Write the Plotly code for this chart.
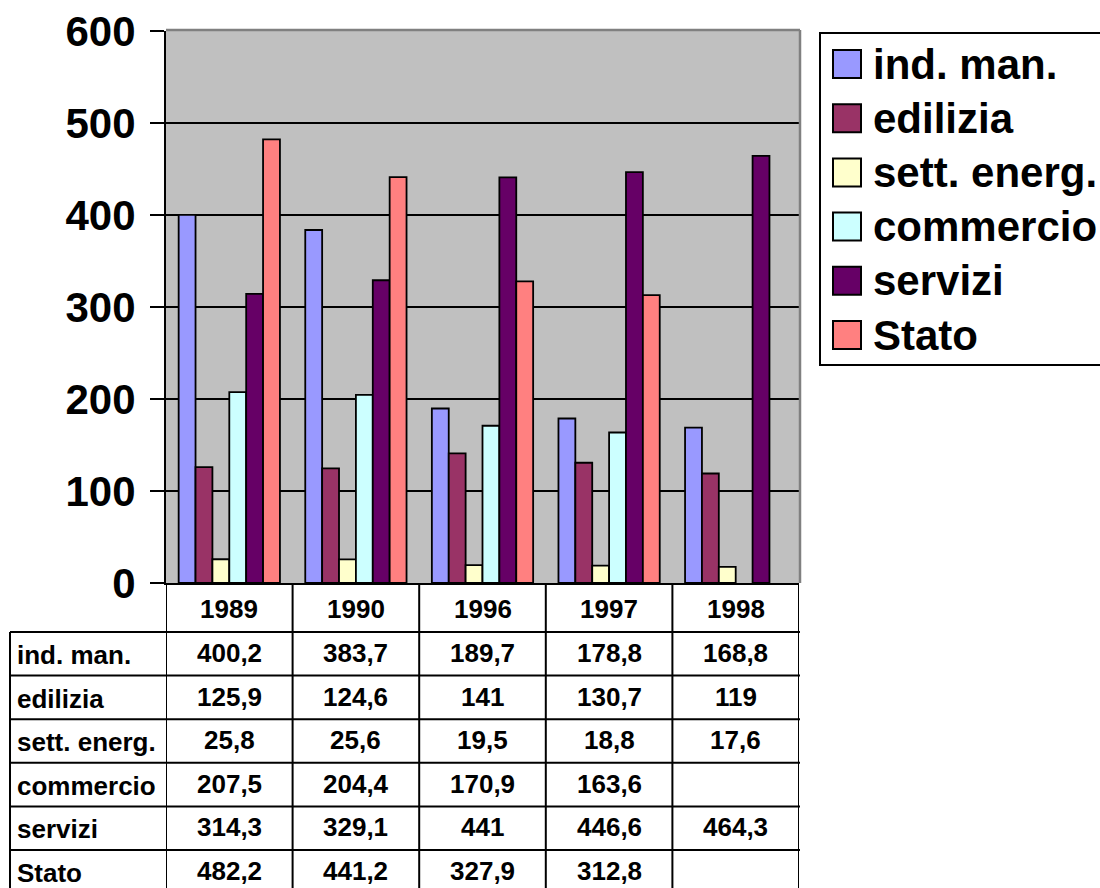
import plotly.graph_objects as go

years = ["1989", "1990", "1996", "1997", "1998"]
series_names = ["ind. man.", "edilizia", "sett. energ.", "commercio", "servizi", "Stato"]
ind_man = [400.2, 383.7, 189.7, 178.8, 168.8]
edilizia = [125.9, 124.6, 141, 130.7, 119]
sett_energ = [25.8, 25.6, 19.5, 18.8, 17.6]
commercio = [207.5, 204.4, 170.9, 163.6, None]
servizi = [314.3, 329.1, 441, 446.6, 464.3]
stato = [482.2, 441.2, 327.9, 312.8, None]
y_ticks = [0, 100, 200, 300, 400, 500, 600]

series_values = [ind_man, edilizia, sett_energ, commercio, servizi, stato]
colors = ["#9999FF", "#993366", "#FFFFCC", "#CCFFFF", "#660066", "#FF8080"]

W, H = 1100, 888
FONT = "Liberation Sans, Arial, sans-serif"

def px(x):
    return x / W

def py(y):
    return 1 - y / H

def fmt(v):
    if v is None:
        return ""
    if float(v).is_integer():
        return str(int(v))
    return ("%g" % v).replace(".", ",")

PLOT_L, PLOT_R, PLOT_T, PLOT_B = 166, 799, 31, 583

fig = go.Figure()
for name, vals, col in zip(series_names, series_values, colors):
    fig.add_trace(go.Bar(
        x=years, y=vals, name=name,
        marker=dict(color=col, line=dict(color="black", width=1.8)),
        showlegend=False,
    ))

shapes = []
annotations = []

# plot area top/right gray border
shapes.append(dict(type="line", xref="paper", yref="paper",
                   x0=px(PLOT_L), x1=px(PLOT_R + 1), y0=py(PLOT_T - 1), y1=py(PLOT_T - 1),
                   line=dict(color="#808080", width=2.5)))
shapes.append(dict(type="line", xref="paper", yref="paper",
                   x0=px(PLOT_R + 1), x1=px(PLOT_R + 1), y0=py(PLOT_T - 1), y1=py(PLOT_B),
                   line=dict(color="#808080", width=2.5)))

# ---- data table below the chart ----
ROW_H = 43.6
HEADER_BOTTOM = 632
TABLE_LEFT = 10
n_rows = len(series_names)
row_tops = [HEADER_BOTTOM + i * ROW_H for i in range(n_rows)]
line_style = dict(color="black", width=2)

# horizontal lines
for i in range(n_rows + 1):
    yy = HEADER_BOTTOM + i * ROW_H
    shapes.append(dict(type="line", xref="paper", yref="paper",
                       x0=px(TABLE_LEFT), x1=px(PLOT_R + 1), y0=py(yy), y1=py(yy),
                       line=line_style))
# vertical lines (category boundaries from the x axis)
for k in range(len(years) + 1):
    shapes.append(dict(type="line", xref="x", yref="paper",
                       x0=k - 0.5, x1=k - 0.5, y0=py(PLOT_B), y1=py(H + 10),
                       line=line_style))
shapes.append(dict(type="line", xref="paper", yref="paper",
                   x0=px(TABLE_LEFT), x1=px(TABLE_LEFT), y0=py(HEADER_BOTTOM), y1=py(H + 10),
                   line=line_style))

# year header
for j, yr in enumerate(years):
    annotations.append(dict(x=j, xref="x", y=py((PLOT_B + HEADER_BOTTOM) / 2 + 1), yref="paper",
                            text="<b>%s</b>" % yr, showarrow=False,
                            font=dict(family=FONT, size=26, color="black"),
                            xanchor="center", yanchor="middle"))
# row labels and values
for i, (name, vals) in enumerate(zip(series_names, series_values)):
    top = row_tops[i]
    annotations.append(dict(x=px(TABLE_LEFT + 5), xref="paper", y=py(top + 23), yref="paper",
                            text="<b>%s</b>" % name, showarrow=False,
                            font=dict(family=FONT, size=26, color="black"),
                            xanchor="left", yanchor="middle"))
    for j, v in enumerate(vals):
        if v is None:
            continue
        annotations.append(dict(x=j, xref="x", y=py(top + 21), yref="paper",
                                text="<b>%s</b>" % fmt(v), showarrow=False,
                                font=dict(family=FONT, size=26, color="black"),
                                xanchor="center", yanchor="middle"))

# ---- legend (drawn manually to match swatch size) ----
LEG_L, LEG_T, LEG_B = 820, 33, 365
shapes.append(dict(type="rect", xref="paper", yref="paper",
                   x0=px(LEG_L), x1=px(W + 20), y0=py(LEG_T), y1=py(LEG_B),
                   line=dict(color="black", width=2), fillcolor="white", layer="below"))
for i, (name, col) in enumerate(zip(series_names, colors)):
    yc = 64 + i * 54.2
    shapes.append(dict(type="rect", xref="paper", yref="paper",
                       x0=px(833), x1=px(861), y0=py(yc - 14), y1=py(yc + 14),
                       line=dict(color="black", width=2), fillcolor=col))
    annotations.append(dict(x=px(871), xref="paper", y=py(yc), yref="paper",
                            text="<b>%s</b>" % name, showarrow=False,
                            font=dict(family=FONT, size=42, color="black"),
                            xanchor="left", yanchor="middle"))

fig.update_layout(
    width=W, height=H,
    margin=dict(l=0, r=0, t=0, b=0, autoexpand=False),
    paper_bgcolor="white",
    plot_bgcolor="#C0C0C0",
    barmode="group",
    bargap=0.2,
    bargroupgap=0,
    shapes=shapes,
    annotations=annotations,
    xaxis=dict(domain=[px(PLOT_L), px(PLOT_R)], range=[-0.5, len(years) - 0.5],
               type="category", showticklabels=False, ticks="",
               showgrid=False, showline=True, linecolor="black", linewidth=2,
               zeroline=False, fixedrange=True),
    yaxis=dict(domain=[py(PLOT_B), py(PLOT_T)], range=[0, 600],
               tickvals=y_ticks, ticktext=[str(t) for t in y_ticks],
               ticks="outside", ticklen=14, tickwidth=2, tickcolor="black",
               tickfont=dict(family=FONT, size=42, color="black", weight="bold"),
               ticklabelstandoff=6,
               showgrid=True, gridcolor="black", gridwidth=1.5,
               showline=True, linecolor="black", linewidth=2,
               zeroline=False, fixedrange=True),
    font=dict(family=FONT),
)

fig.write_html("out.html")
